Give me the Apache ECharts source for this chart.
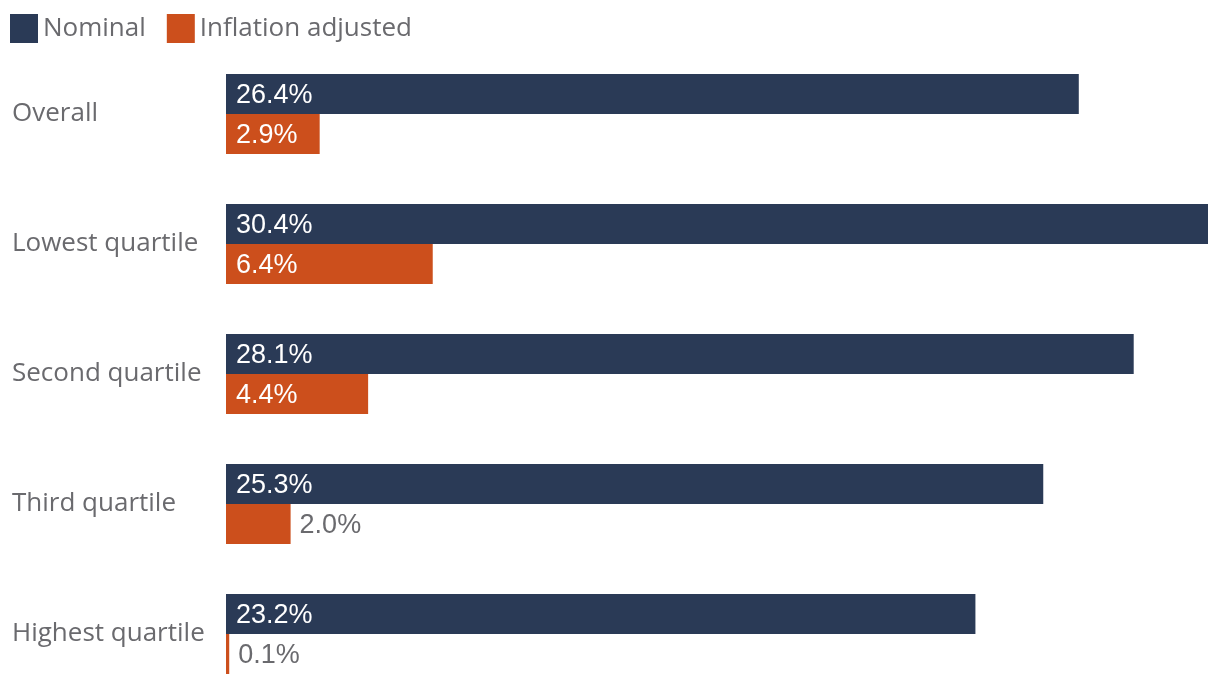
<!DOCTYPE html>
<html><head><meta charset="utf-8">
<script src="https://cdn.jsdelivr.net/npm/echarts@6/dist/echarts.min.js"></script>
<style>html,body{margin:0;padding:0;background:#fff;overflow:hidden}#c{width:1220px;height:700px}</style>
</head><body><div id="c"></div>
<script>
const categories = ['Overall', 'Lowest quartile', 'Second quartile', 'Third quartile', 'Highest quartile'];
const nominal = [26.4, 30.4, 28.1, 25.3, 23.2];
const inflationAdjusted = [2.9, 6.4, 4.4, 2.0, 0.1];
const seriesNames = ['Nominal', 'Inflation adjusted'];
const NAVY = '#2a3a56', ORANGE = '#cc4f1c', GRAY = '#6a6a6e';
const catFont = '"Open Sans", Lato, sans-serif';
const valFont = '"Liberation Sans", Arial, sans-serif';

function mkData(vals) {
  return vals.map(v => {
    const inside = v >= 2.5;
    return {
      value: v,
      label: inside
        ? { position: 'insideLeft', distance: 10, color: '#fff', offset: [0, 2] }
        : { position: 'right', distance: 9, color: GRAY, offset: [0, 2] }
    };
  });
}

const chart = echarts.init(document.getElementById('c'));
chart.setOption({
  animation: false,
  legend: {
    left: 5, top: 9, itemWidth: 28, itemHeight: 29, itemGap: 21,
    icon: 'rect',
    textStyle: { fontFamily: catFont, fontSize: 26, color: GRAY },
    data: seriesNames
  },
  grid: { left: 226, right: 12, top: 49, height: 650, containLabel: false },
  xAxis: { type: 'value', min: 0, max: 30.4, show: false },
  yAxis: {
    type: 'category', inverse: true, data: categories,
    axisLine: { show: false }, axisTick: { show: false },
    axisLabel: { align: 'left', margin: 214, fontFamily: catFont, fontSize: 26, color: GRAY }
  },
  series: [
    {
      name: seriesNames[0], type: 'bar', barWidth: 40, barGap: '0%',
      itemStyle: { color: NAVY },
      label: { show: true, fontFamily: valFont, fontSize: 27, formatter: p => p.value.toFixed(1) + '%' },
      data: mkData(nominal)
    },
    {
      name: seriesNames[1], type: 'bar', barWidth: 40, barGap: '0%',
      itemStyle: { color: ORANGE },
      label: { show: true, fontFamily: valFont, fontSize: 27, formatter: p => p.value.toFixed(1) + '%' },
      data: mkData(inflationAdjusted)
    }
  ]
});
</script></body></html>
